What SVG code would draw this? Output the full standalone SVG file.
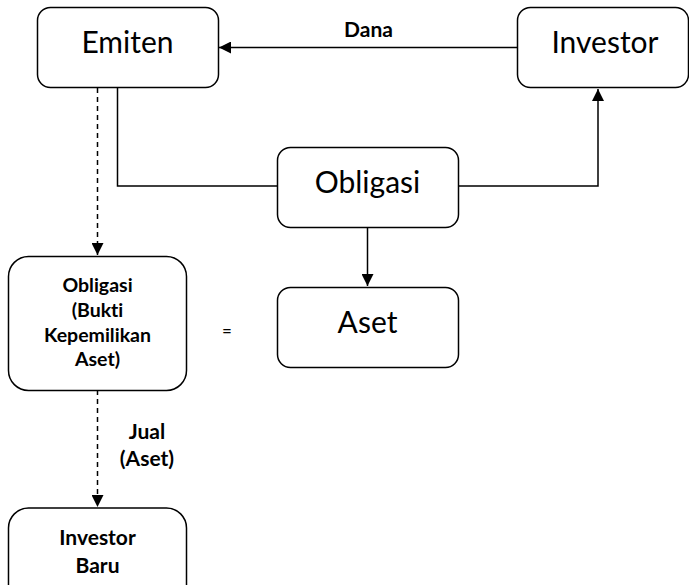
<svg xmlns="http://www.w3.org/2000/svg" width="689" height="585" viewBox="0 0 689 585">
<style>
text{font-variant-ligatures:none}
.box{fill:#fff;stroke:#000;stroke-width:1.5}
.big{font-family:Lato,"Open Sans",sans-serif;font-size:30px;fill:#000;text-anchor:middle}
.sm{font-family:Lato,"Open Sans",sans-serif;font-size:21px;font-weight:bold;fill:#000;text-anchor:middle}
.bk{font-size:19.5px}
.ln{fill:none;stroke:#000;stroke-width:1.5}
.dash{stroke-dasharray:5,4}
</style>
<defs>
<marker id="ah" viewBox="0 0 12 12" refX="12" refY="6" markerWidth="12" markerHeight="12" markerUnits="userSpaceOnUse" orient="auto">
<path d="M0,0 L12,6 L0,12 Z" fill="#000"/>
</marker>
</defs>
<g id="connectors">
<line class="ln" x1="517" y1="47.5" x2="219" y2="47.5" marker-end="url(#ah)"/>
<text class="sm" x="368.5" y="37">Dana</text>
<polyline class="ln" points="117.5,88 117.5,186 277,186"/>
<polyline class="ln" points="458,186 598,186 598,89" marker-end="url(#ah)"/>
<line class="ln" x1="367.5" y1="228" x2="367.5" y2="286" marker-end="url(#ah)"/>
<line class="ln dash" x1="97.5" y1="88" x2="97.5" y2="255" marker-end="url(#ah)"/>
<line class="ln dash" x1="97.5" y1="390" x2="97.5" y2="507" marker-end="url(#ah)"/>
<text class="sm" x="147" y="439">Jual</text>
<text class="sm" x="147" y="466">(Aset)</text>
</g>
<g id="emiten">
<rect class="box" x="37.5" y="7.5" width="181" height="80" rx="13"/>
<text class="big" x="127.5" y="53">Emiten</text>
</g>
<g id="investor">
<rect class="box" x="517.5" y="7.5" width="171" height="80" rx="13"/>
<text class="big" x="605" y="53">Investor</text>
</g>
<g id="obligasi">
<rect class="box" x="277.5" y="147.5" width="181" height="80" rx="13"/>
<text class="big" x="367.5" y="193">Obligasi</text>
</g>
<g id="aset">
<rect class="box" x="277.5" y="287.5" width="181" height="80" rx="13"/>
<text class="big" x="367.5" y="333">Aset</text>
</g>
<g id="equals">
<text x="227" y="337" style="font-family:Lato,'Open Sans',sans-serif;font-size:17px;fill:#000;text-anchor:middle">=</text>
</g>
<g id="obligasi-bukti">
<rect class="box" x="8.5" y="256.5" width="178" height="134" rx="20"/>
<text class="sm bk" x="97.5" y="292">Obligasi</text>
<text class="sm bk" x="97.5" y="317">(Bukti</text>
<text class="sm bk" x="97.5" y="342">Kepemilikan</text>
<text class="sm bk" x="97.5" y="366">Aset)</text>
</g>
<g id="investor-baru">
<rect class="box" x="8.5" y="508" width="178" height="100" rx="20"/>
<text class="sm" x="97.5" y="545">Investor</text>
<text class="sm" x="97.5" y="573">Baru</text>
</g>
</svg>
